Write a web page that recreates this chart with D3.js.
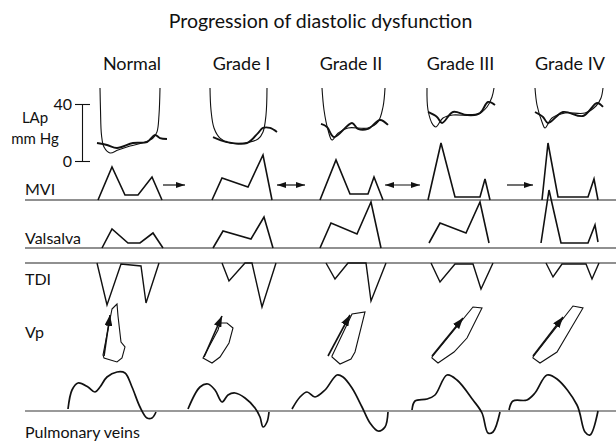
<!DOCTYPE html>
<html><head><meta charset="utf-8">
<script src="https://cdn.jsdelivr.net/npm/d3@7"></script>
<style>
body{margin:0;background:#fff}
svg{display:block}
text{font-family:Lato,"Open Sans",sans-serif;fill:#111}
</style>
</head><body>
<svg id="c" width="616" height="446"></svg>
<script>
// ---------- DATA ----------
const grades = ["Normal", "Grade I", "Grade II", "Grade III", "Grade IV"];
const lapTicks = [0, 40];

// LV pressure trace (thin) : [time ms, mm Hg]
const lapLV = [
  [[30,51.2],[35,35.8],[45,18.2],[70,9.8],[130,5.6],[210,7.7],[330,10.5],[480,13.3],[560,16.1],[600,20.4],[620,32.3],[630,51.2]],
  [[35,51.2],[45,35.8],[75,23.2],[135,16.1],[235,12.6],[435,13.3],[515,15.4],[565,20.4],[595,32.3],[605,51.2]],
  [[60,51.2],[80,35.8],[120,21.8],[160,14.7],[220,19.6],[320,23.2],[520,23.2],[620,27.4],[670,37.9],[690,51.2]],
  [[15,51.2],[25,35.8],[75,25.3],[105,23.9],[175,30.2],[275,32.3],[515,32.3],[615,37.9],[665,44.9],[685,51.2]],
  [[0,51.2],[20,39.3],[70,27.4],[100,23.2],[170,30.2],[300,33.7],[500,33.7],[610,38.6],[660,44.2],[680,51.2]]
];
// LA pressure trace (thick) : [time ms, mm Hg]
const lapLA = [
  [[0,12.6],[100,11.2],[200,9.1],[360,12.6],[500,13.3],[580,18.2],[630,16.1],[700,15.4]],
  [[65,16.8],[205,13.3],[405,12.6],[515,19.6],[565,23.2],[635,23.2],[705,20.4]],
  [[50,26.0],[110,23.9],[180,16.8],[360,26.7],[420,22.5],[520,22.5],[640,28.8],[720,25.3]],
  [[25,34.4],[115,30.9],[165,26.7],[275,34.4],[415,32.3],[545,33.7],[625,41.4],[695,39.3]],
  [[0,34.4],[80,30.9],[130,26.7],[280,34.4],[480,31.6],[620,40.7],[680,37.9]]
];
// Mitral valve inflow : [time ms, cm/s]
const mvi = [
  [[10,0],[150,66],[280,10],[410,10],[550,46],[650,0]],
  [[55,0],[155,44],[415,26],[565,90],[655,0]],
  [[40,0],[200,80],[340,12],[520,12],[580,46],[670,0]],
  [[25,0],[155,114],[295,6],[545,6],[595,42],[645,0]],
  [[70,0],[130,114],[230,6],[530,6],[590,42],[630,0]]
];
// Transitions between grades (arrow type, from/to time relative to left grade, level cm/s)
const transitionType = ["single", "double", "double", "single"];
const transitionSpan = [[660, 880], [705, 985], [690, 1040], [815, 1075]];
const transitionLevel = 30;
// Mitral inflow during Valsalva : [time ms, cm/s]
const valsalva = [
  [[50,0],[150,38],[310,10],[430,10],[560,30],[660,0]],
  [[65,0],[165,34],[445,18],[575,62],[665,0]],
  [[40,0],[150,50],[410,28],[550,92],[650,0]],
  [[35,10],[145,50],[405,30],[545,92],[635,10]],
  [[60,10],[140,116],[260,10],[530,10],[600,46],[630,12]]
];
// Tissue Doppler (annular velocity) : [time ms, cm/s]
const tdi = [
  [[0,0],[100,-21],[240,-0.5],[440,-1.5],[490,-20],[620,0]],
  [[155,0],[225,-9],[385,0],[455,0],[555,-22],[695,0]],
  [[100,0],[190,-8],[320,0],[500,0],[550,-19],[700,0]],
  [[55,0],[145,-9.5],[295,-0.5],[475,-0.5],[555,-13],[675,0]],
  [[110,0],[180,-7],[270,-0.5],[510,-0.5],[570,-8],[640,0]]
];
// Colour M-mode propagation envelope : [time ms, depth cm]
const vpShape = [
  [[150,0.7],[200,0.2],[210,1.4],[240,4.0],[280,4.5],[250,5.6],[200,6.0],[70,5.6],[60,5.3]],
  [[-35,5.6],[115,2.8],[135,2.1],[205,2.1],[265,2.6],[225,4.1],[135,5.5],[55,6.1]],
  [[160,5.4],[360,1.2],[490,1.0],[390,5.0],[350,5.7],[240,6.2],[160,5.5]],
  [[65,5.5],[475,0.5],[565,0.6],[415,3.6],[285,5.0],[125,6.1],[65,5.6]],
  [[-20,5.5],[380,0.4],[480,0.6],[350,2.8],[220,5.0],[50,6.1],[-20,5.6]]
];
// Propagation velocity slope : [[t0,d0],[t1,d1]]
const vpArrow = [
  [[70,5.4],[130,1.3]],
  [[-25,5.5],[155,1.4]],
  [[120,5.4],[340,1.3]],
  [[65,5.4],[375,1.6]],
  [[-20,5.4],[280,1.5]]
];
// Pulmonary venous flow : [time ms, cm/s]
const pvFlow = [
  [[-290,3],[-250,31.5],[-190,42],[-90,36],[-20,28.5],[30,36],[100,51],[200,58.5],[280,57],[350,36],[430,6],[500,-10.5],[550,-10.5],[590,-1.5]],
  [[-185,3],[-65,36],[15,40.5],[85,31.5],[155,13.5],[215,24],[285,27],[385,19.5],[485,4.5],[535,-9],[565,-24],[605,-16.5],[625,-1.5]],
  [[-240,3],[-160,21],[-90,28.5],[-10,21],[90,31.5],[210,54],[270,51],[360,34.5],[460,6],[540,-18],[620,-30],[690,-24],[720,-1.5]],
  [[-135,1.5],[-105,15],[15,18],[95,24],[215,54],[315,46.5],[475,16.5],[565,-3],[625,-33],[675,-31.5],[745,-1.5]],
  [[-260,1.5],[-220,15],[-80,16.5],[0,27],[120,54],[220,48],[420,9],[500,-31.5],[550,-36],[630,0]]
];
const rowLabels = ["MVI", "Valsalva", "TDI", "Vp", "Pulmonary veins"];

// ---------- SCALES ----------
const svg = d3.select("#c");
const W = 616;
const col = d3.scalePoint().domain(grades).range([97, 535]);
const tx = d3.scaleLinear().domain([0, 1000]).range([0, 100]);
const X = (g, t) => col(g) + tx(t);

const yLap = d3.scaleLinear().domain([0, 40]).range([161, 104]);
const yMvi = d3.scaleLinear().domain([0, 100]).range([200, 150]);
const yVal = d3.scaleLinear().domain([0, 100]).range([248, 198]);
const yTdi = d3.scaleLinear().domain([0, -20]).range([263, 303]);
const yVp  = d3.scaleLinear().domain([0, 6]).range([302, 362]);
const yPv  = d3.scaleLinear().domain([0, 60]).range([411, 371]);

// markers
const defs = svg.append("defs");
function marker(id, w, h, orient) {
  defs.append("marker").attr("id", id).attr("viewBox", `0 0 ${w} ${h}`)
    .attr("refX", w).attr("refY", h / 2).attr("markerUnits", "userSpaceOnUse")
    .attr("markerWidth", w).attr("markerHeight", h).attr("orient", orient)
    .append("path").attr("d", `M0,0L${w},${h/2}L0,${h}Z`).attr("fill", "#111");
}
marker("ah", 9, 6, "auto");
marker("ahs", 9, 6, "auto-start-reverse");
marker("vh", 11, 8, "auto");

// ---------- TITLE & HEADERS ----------
svg.append("text").attr("x", 320.5).attr("y", 28).attr("text-anchor", "middle")
  .attr("font-size", 19.5).text("Progression of diastolic dysfunction");
svg.selectAll("text.grade").data(grades).join("text").attr("class", "grade")
  .attr("x", g => col(g) + 35).attr("y", 70).attr("text-anchor", "middle")
  .attr("font-size", 18).text(g => g);

// ---------- BASELINES ----------
const baselines = [
  {y: yMvi(0), c: "#222", w: 1.1},
  {y: yVal(0), c: "#222", w: 1.1},
  {y: yTdi(0), c: "#222", w: 1.1},
  {y: yPv(0), c: "#777", w: 1.6}
];
svg.selectAll("line.base").data(baselines).join("line").attr("class", "base")
  .attr("x1", 25).attr("x2", W).attr("y1", d => d.y).attr("y2", d => d.y)
  .attr("stroke", d => d.c).attr("stroke-width", d => d.w);

// ---------- ROW LABELS ----------
const rowLabelY = [195, 244, 285, 338, 438];
svg.selectAll("text.row").data(rowLabels).join("text").attr("class", "row")
  .attr("x", 25).attr("y", (d, i) => rowLabelY[i]).attr("font-size", 16).text(d => d);

// ---------- LAp AXIS ----------
const ax = svg.append("g").attr("transform", "translate(90,0)")
  .call(d3.axisLeft(yLap).tickValues(lapTicks).tickSize(15).tickPadding(3).tickFormat(d3.format("d")));
ax.select(".domain").remove();
ax.selectAll("line").attr("stroke", "#111").attr("stroke-width", 1.1);
ax.selectAll("text").attr("font-size", 16).attr("font-family", "Lato,'Open Sans',sans-serif").attr("fill", "#111");
svg.append("line").attr("x1", 82.5).attr("x2", 82.5).attr("y1", yLap(0)).attr("y2", yLap(40))
  .attr("stroke", "#111").attr("stroke-width", 1.1);
svg.append("text").attr("x", 35).attr("y", 123).attr("text-anchor", "middle").attr("font-size", 15).text("LAp");
svg.append("text").attr("x", 35).attr("y", 144).attr("text-anchor", "middle").attr("font-size", 15).text("mm Hg");

// ---------- TRACES ----------
function drawRow(data, yS, curve, width, cls) {
  grades.forEach((g, i) => {
    const line = d3.line().x(d => X(g, d[0])).y(d => yS(d[1])).curve(curve);
    svg.append("path").attr("class", cls).attr("d", line(data[i]))
      .attr("fill", "none").attr("stroke", "#111").attr("stroke-width", width)
      .attr("stroke-linejoin", "miter");
  });
}
drawRow(lapLV, yLap, d3.curveCatmullRom.alpha(0.5), 1.1, "lv");
drawRow(lapLA, yLap, d3.curveCatmullRom.alpha(0.5), 1.9, "la");
drawRow(mvi, yMvi, d3.curveLinear, 1.6, "mvi");
drawRow(valsalva, yVal, d3.curveLinear, 1.6, "val");
drawRow(tdi, yTdi, d3.curveLinear, 1.4, "tdi");
drawRow(pvFlow, yPv, d3.curveCatmullRom.alpha(0.5), 1.7, "pv");

// Vp envelopes & arrows
grades.forEach((g, i) => {
  const line = d3.line().x(d => X(g, d[0])).y(d => yVp(d[1])).curve(d3.curveLinearClosed);
  svg.append("path").attr("d", line(vpShape[i])).attr("fill", "none")
    .attr("stroke", "#111").attr("stroke-width", 1.1);
  const a = vpArrow[i];
  svg.append("line").attr("x1", X(g, a[0][0])).attr("y1", yVp(a[0][1]))
    .attr("x2", X(g, a[1][0])).attr("y2", yVp(a[1][1]))
    .attr("stroke", "#111").attr("stroke-width", 1.6).attr("marker-end", "url(#vh)");
});

// transition arrows
transitionType.forEach((t, i) => {
  const g = grades[i];
  const s = transitionSpan[i];
  const ln = svg.append("line").attr("x1", X(g, s[0])).attr("x2", X(g, s[1]))
    .attr("y1", yMvi(transitionLevel)).attr("y2", yMvi(transitionLevel))
    .attr("stroke", "#111").attr("stroke-width", 1.2).attr("marker-end", "url(#ah)");
  if (t === "double") ln.attr("marker-start", "url(#ahs)");
});
</script>
</body></html>
